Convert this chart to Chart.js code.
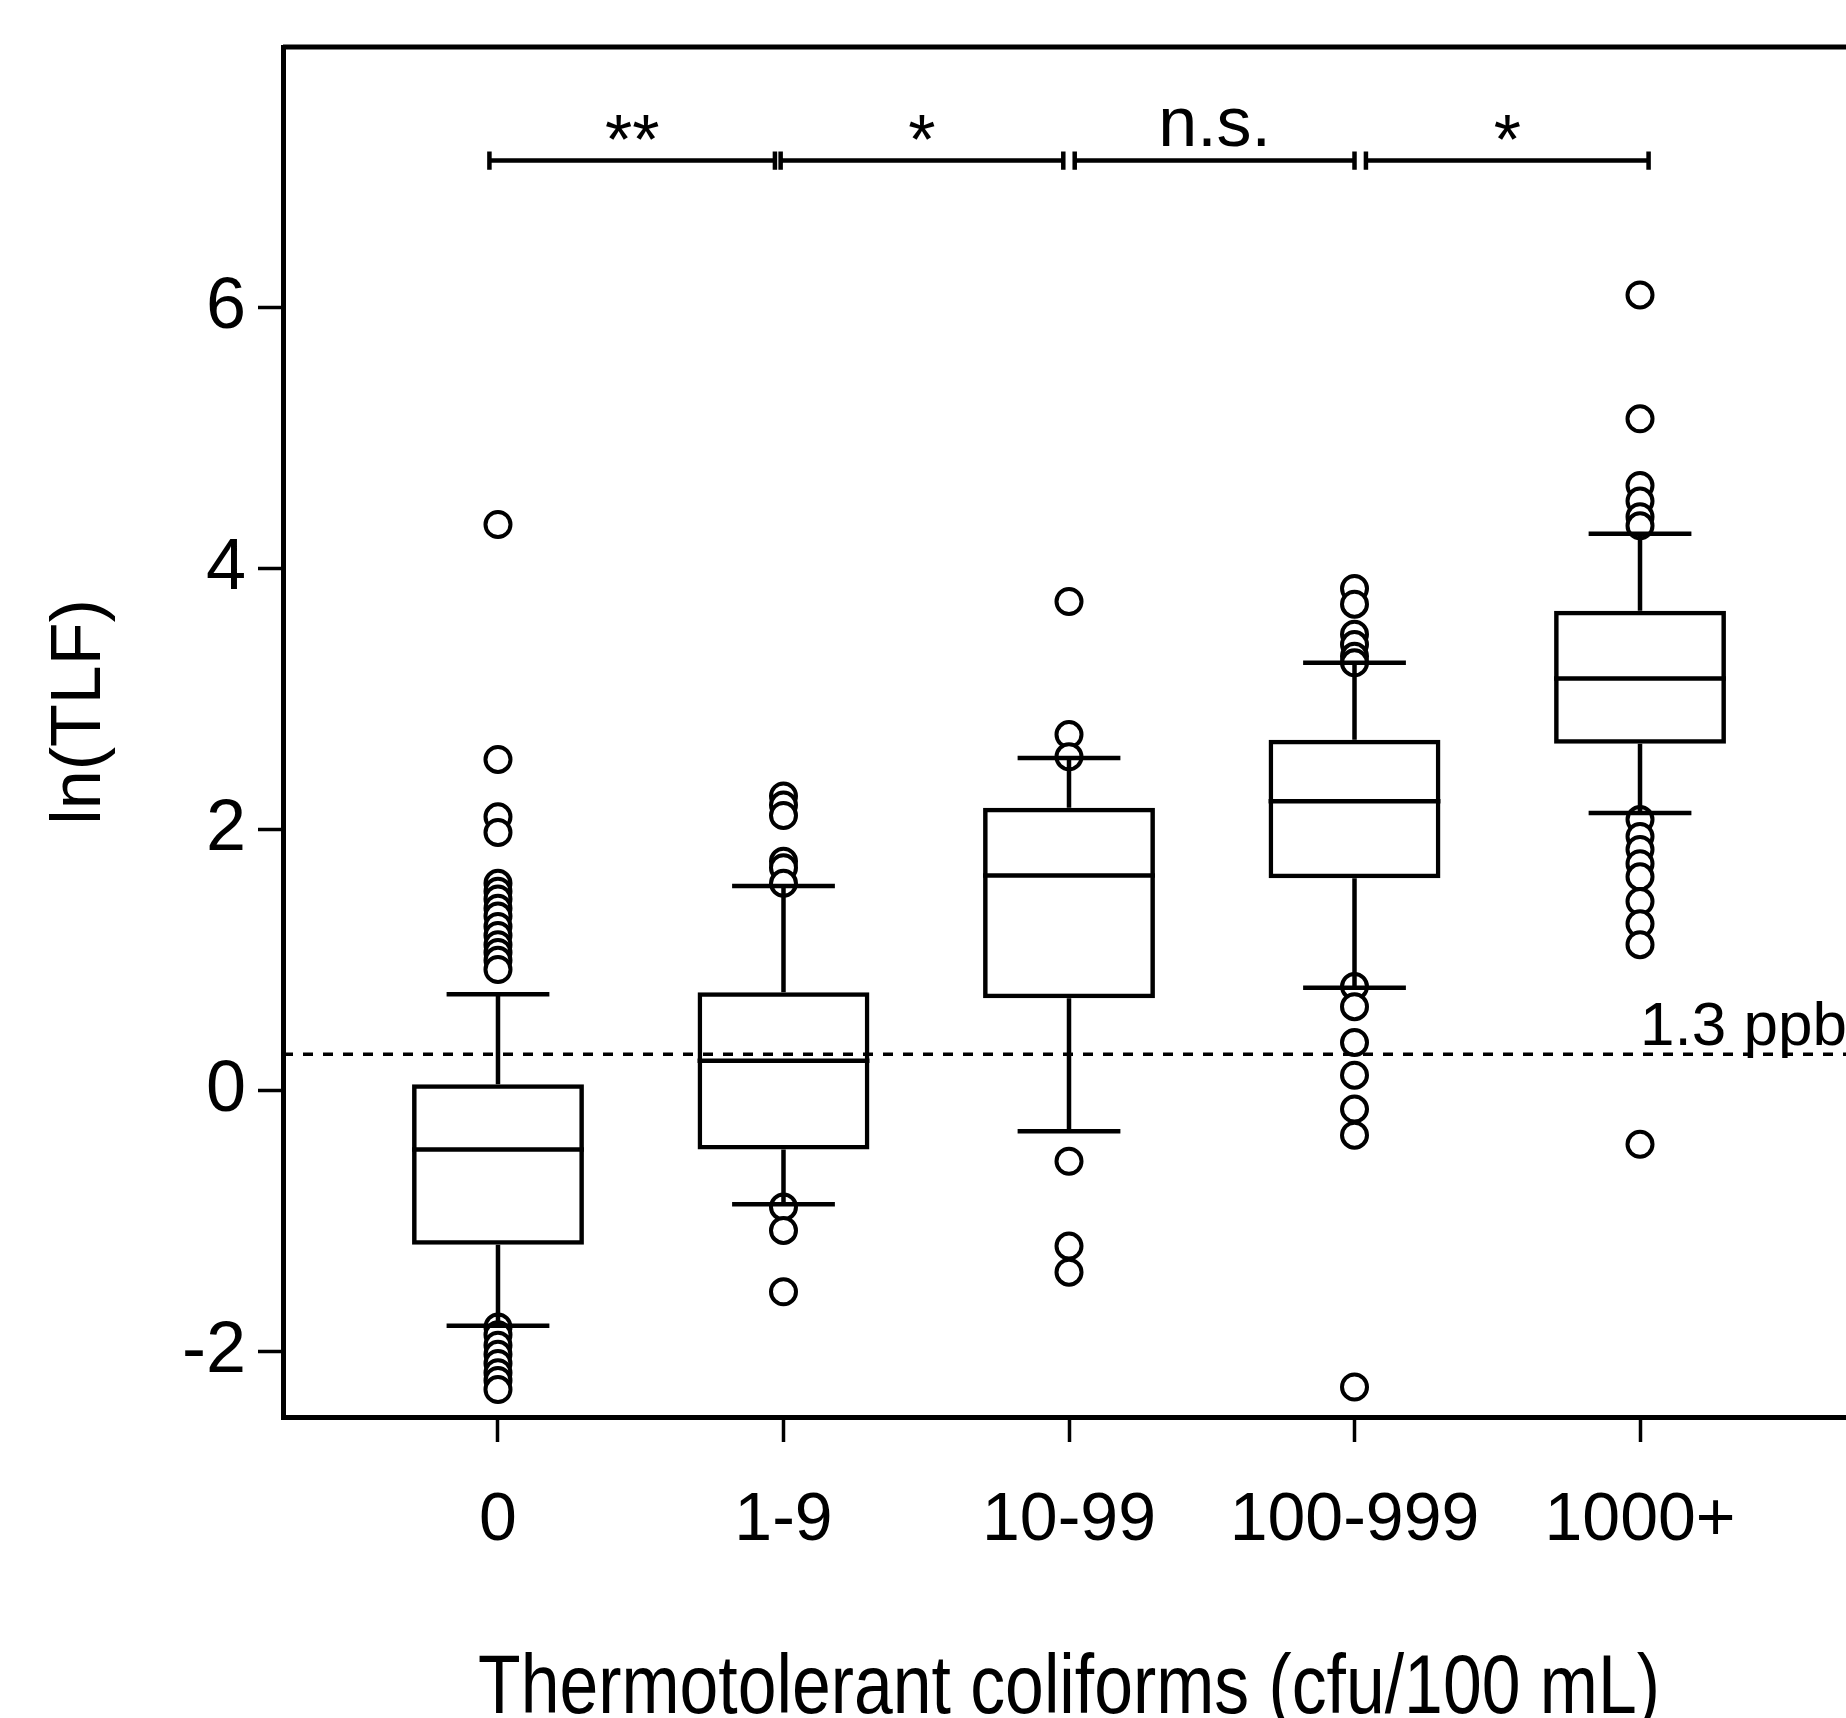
<!DOCTYPE html>
<html>
<head>
<meta charset="utf-8">
<title>ln(TLF) by thermotolerant coliforms</title>
<script src="https://cdn.jsdelivr.net/npm/chart.js@4.4.1/dist/chart.umd.min.js"></script>
<style>
    html, body { margin: 0; padding: 0; background: #fff; overflow: hidden; }
    #wrap { width: 1900px; height: 1760px; }
</style>
</head>
<body>
<div id="wrap"><canvas id="chart" width="1900" height="1760"></canvas></div>
<script>
// values (ln of TLF)
var categories = ['0', '1-9', '10-99', '100-999', '1000+'];
var whiskerLow = [-1.80, -0.87, -0.31, 0.79, 2.13];
var quartile1 = [-1.18, -0.45, 0.71, 1.63, 2.66];
var medians = [-0.45, 0.23, 1.65, 2.22, 3.16];
var quartile3 = [0.05, 0.755, 2.17, 2.69, 3.68];
var whiskerHigh = [0.74, 1.57, 2.55, 3.28, 4.27];
var outliers = [
    [4.34, 2.54, 2.10, 1.98, 1.59, 1.53, 1.47, 1.40, 1.34, 1.26, 1.19, 1.12, 1.06, 1.00, 0.93,
        -1.81, -1.87, -1.95, -2.02, -2.09, -2.16, -2.22, -2.29],
    [2.26, 2.19, 2.11, 1.76, 1.71, 1.59, -0.89, -1.07, -1.54],
    [3.75, 2.73, 2.56, -0.54, -1.19, -1.39],
    [3.85, 3.73, 3.50, 3.42, 3.33, 3.28, 0.80, 0.645, 0.37, 0.12, -0.14, -0.34, -2.27],
    [6.10, 5.15, 4.64, 4.52, 4.40, 4.33, 2.08, 1.95, 1.85, 1.74, 1.64, 1.45, 1.28, 1.12, -0.41]
];
var yTicks = [-2, 0, 2, 4, 6];

// significance brackets between neighbouring groups
var sigLabels = ['**', '*', 'n.s.', '*'];
var sigStart = [-0.03, 0.99, 2.02, 3.04];
var sigEnd = [0.97, 1.98, 3.0, 4.03];
var sigLevel = 7.13;

// detection limit line
var limitValue = 0.28;
var limitLabel = '1.3 ppb';

var xTitle = 'Thermotolerant coliforms (cfu/100 mL)';
var yTitle = 'ln(TLF)';

(function () {
    'use strict';

    var FONT = '"Liberation Sans", Arial, sans-serif';
    var X_MIN = -0.753;
    var X_MAX = 4.753;
    var BOX_FRAC = 0.602;
    var CAP_HALF = 0.18;
    var TICK_HALF = 0.07;
    var LW = 4.5;

    var boxHalf = BOX_FRAC / 2;
    var gap = { x: null, y: null };

    var boxData = [];
    var medianData = [];
    var whiskerData = [];
    var outlierData = [];
    for (var i = 0; i < categories.length; i++) {
        boxData.push({ x: i, y: [quartile1[i], quartile3[i]] });
        medianData.push({ x: i - boxHalf, y: medians[i] }, { x: i + boxHalf, y: medians[i] }, gap);
        whiskerData.push(
            { x: i, y: quartile3[i] }, { x: i, y: whiskerHigh[i] }, gap,
            { x: i - CAP_HALF, y: whiskerHigh[i] }, { x: i + CAP_HALF, y: whiskerHigh[i] }, gap,
            { x: i, y: quartile1[i] }, { x: i, y: whiskerLow[i] }, gap,
            { x: i - CAP_HALF, y: whiskerLow[i] }, { x: i + CAP_HALF, y: whiskerLow[i] }, gap
        );
        // top to bottom so the lower circle overlaps the one above
        var pts = outliers[i].slice().sort(function (a, b) { return b - a; });
        for (var k = 0; k < pts.length; k++) {
            outlierData.push({ x: i, y: pts[k] });
        }
    }

    var bracketData = [];
    for (var j = 0; j < sigLabels.length; j++) {
        bracketData.push(
            { x: sigStart[j], y: sigLevel - TICK_HALF }, { x: sigStart[j], y: sigLevel + TICK_HALF }, gap,
            { x: sigStart[j], y: sigLevel }, { x: sigEnd[j], y: sigLevel }, gap,
            { x: sigEnd[j], y: sigLevel - TICK_HALF }, { x: sigEnd[j], y: sigLevel + TICK_HALF }, gap
        );
    }

    var lineStyle = {
        type: 'line',
        borderColor: '#000',
        borderWidth: LW,
        pointRadius: 0,
        fill: false,
        tension: 0,
        spanGaps: false,
        borderCapStyle: 'butt'
    };

    var extras = {
        id: 'extras',
        afterDatasetsDraw: function (chart) {
            var ctx = chart.ctx;
            var area = chart.chartArea;
            var xs = chart.scales.x;
            var ys = chart.scales.y;
            ctx.save();
            // top and right side of the frame
            ctx.strokeStyle = '#000';
            ctx.lineWidth = 5;
            ctx.beginPath();
            ctx.moveTo(area.left, area.top);
            ctx.lineTo(area.right, area.top);
            ctx.lineTo(area.right, area.bottom);
            ctx.stroke();

            ctx.fillStyle = '#000';
            ctx.font = '70px ' + FONT;
            ctx.textAlign = 'center';
            ctx.textBaseline = 'alphabetic';
            var yb = ys.getPixelForValue(sigLevel);
            for (var n = 0; n < sigLabels.length; n++) {
                var m = ctx.measureText(sigLabels[n]);
                var half = (m.actualBoundingBoxAscent - m.actualBoundingBoxDescent) / 2;
                var cx = xs.getPixelForValue((sigStart[n] + sigEnd[n]) / 2);
                ctx.fillText(sigLabels[n], cx, yb - 33 + half);
            }

            ctx.font = '62px ' + FONT;
            ctx.textAlign = 'left';
            ctx.fillText(limitLabel, xs.getPixelForValue(categories.length - 1), ys.getPixelForValue(limitValue) - 9);
            ctx.restore();
        },
        afterDraw: function (chart) {
            var ctx = chart.ctx;
            var area = chart.chartArea;
            ctx.save();
            ctx.fillStyle = '#000';
            ctx.textAlign = 'center';
            ctx.textBaseline = 'alphabetic';

            // x title: tall, narrow lettering as in the figure
            ctx.save();
            ctx.font = '83px ' + FONT;
            ctx.translate((area.left + area.right) / 2, area.bottom + 296);
            ctx.scale(0.84, 1);
            ctx.fillText(xTitle, 0, 0);
            ctx.restore();

            // y title, rotated
            ctx.save();
            ctx.font = '70px ' + FONT;
            ctx.translate(100, (area.top + area.bottom) / 2 - 20);
            ctx.rotate(-Math.PI / 2);
            ctx.fillText(yTitle, 0, 0);
            ctx.restore();

            ctx.restore();
        }
    };

    new Chart(document.getElementById('chart'), {
        type: 'scatter',
        data: {
            datasets: [
                Object.assign({}, lineStyle, { label: 'whiskers', data: whiskerData, order: 1 }),
                Object.assign({}, lineStyle, { label: 'medians', data: medianData, order: 1 }),
                Object.assign({}, lineStyle, { label: 'brackets', data: bracketData, order: 1 }),
                Object.assign({}, lineStyle, {
                    label: 'limit',
                    data: [{ x: X_MIN, y: limitValue }, { x: X_MAX, y: limitValue }],
                    borderWidth: 3.5,
                    borderDash: [10, 10],
                    order: 2
                }),
                {
                    type: 'bar',
                    label: 'boxes',
                    data: boxData,
                    backgroundColor: 'rgba(0,0,0,0)',
                    borderColor: '#000',
                    borderWidth: LW,
                    borderSkipped: false,
                    categoryPercentage: 1,
                    barPercentage: BOX_FRAC,
                    order: 3
                },
                {
                    type: 'scatter',
                    label: 'outliers',
                    data: outlierData,
                    pointStyle: 'circle',
                    pointRadius: 12.5,
                    pointBorderWidth: 4,
                    pointBackgroundColor: '#fff',
                    pointBorderColor: '#000',
                    order: 4
                }
            ]
        },
        options: {
            responsive: false,
            animation: false,
            events: [],
            layout: { padding: { top: 47, right: 45, left: 0, bottom: 0 } },
            plugins: {
                legend: { display: false },
                tooltip: { enabled: false }
            },
            scales: {
                x: {
                    type: 'linear',
                    min: X_MIN,
                    max: X_MAX,
                    offset: false,
                    afterBuildTicks: function (axis) {
                        axis.ticks = categories.map(function (c, idx) { return { value: idx }; });
                    },
                    afterFit: function (axis) {
                        axis.height = 343;
                        axis.paddingLeft = 0;
                        axis.paddingRight = 0;
                    },
                    ticks: {
                        autoSkip: false,
                        maxRotation: 0,
                        minRotation: 0,
                        color: '#000',
                        padding: 38,
                        font: { family: FONT, size: 68 },
                        callback: function (value) { return categories[value]; }
                    },
                    grid: {
                        drawOnChartArea: false,
                        drawTicks: true,
                        tickLength: 25,
                        tickWidth: 3.5,
                        tickColor: '#000',
                        offset: false
                    },
                    border: { display: true, color: '#000', width: 5 },
                    title: { display: false }
                },
                y: {
                    type: 'linear',
                    min: -2.5,
                    max: 8,
                    afterBuildTicks: function (axis) {
                        axis.ticks = yTicks.map(function (v) { return { value: v }; });
                    },
                    afterFit: function (axis) {
                        axis.width = 283;
                        axis.paddingTop = 0;
                        axis.paddingBottom = 0;
                    },
                    ticks: {
                        color: '#000',
                        padding: 12,
                        font: { family: FONT, size: 72 },
                        callback: function (value) { return String(value); }
                    },
                    grid: {
                        drawOnChartArea: false,
                        drawTicks: true,
                        tickLength: 25,
                        tickWidth: 3.5,
                        tickColor: '#000'
                    },
                    border: { display: true, color: '#000', width: 5 },
                    title: { display: false }
                }
            }
        },
        plugins: [extras]
    });
})();
</script>
</body>
</html>
